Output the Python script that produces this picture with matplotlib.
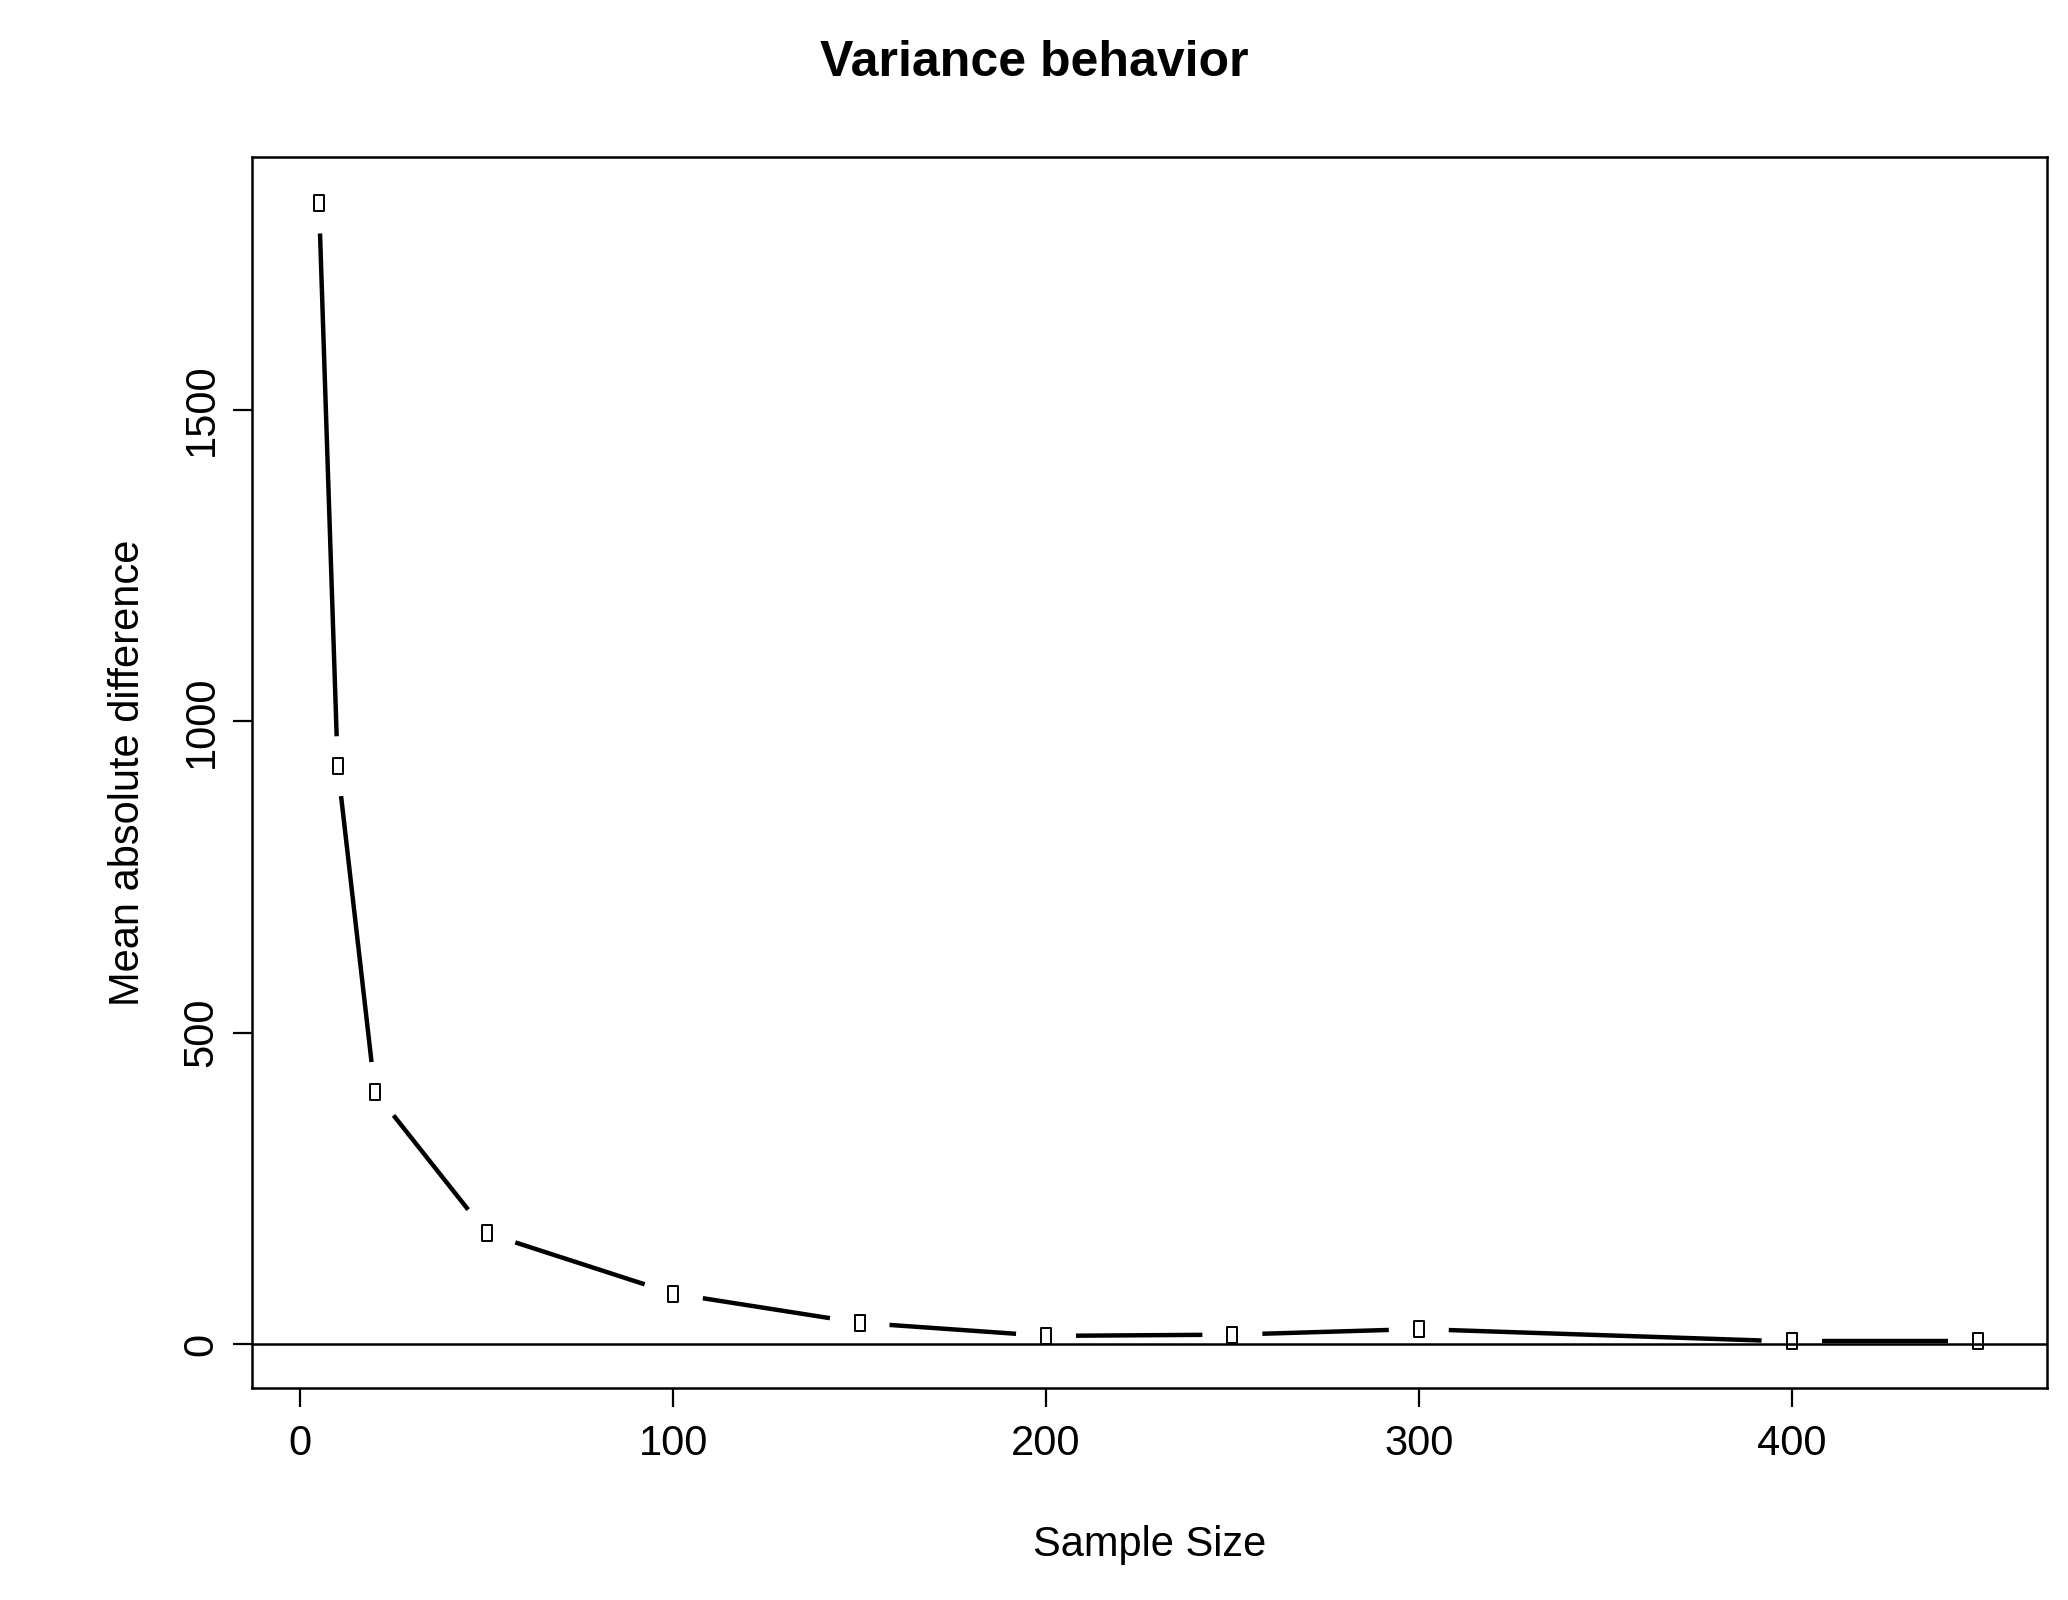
import matplotlib.pyplot as plt
import numpy as np
from matplotlib.path import Path

plt.rcParams['font.family'] = ['Liberation Sans', 'DejaVu Sans']

sample_size = [5, 10, 20, 50, 100, 150, 200, 250, 300, 400, 450]
mean_abs_diff = [1832, 928, 405, 178, 81, 34, 13, 15, 24, 4, 4]

fig = plt.figure(figsize=(10.34, 8), dpi=200)
ax = fig.add_axes([0.122, 0.1325, 0.868, 0.7695])
ax.set_xlim(-12.9, 468.6)
ax.set_ylim(-70.7, 1907)

# R type="b": lines with gaps around points
fig.canvas.draw()
tr = ax.transData
pts = tr.transform(np.column_stack([sample_size, mean_abs_diff]))
gap = 30.0
for (x0, y0), (x1, y1) in zip(pts[:-1], pts[1:]):
    d = np.hypot(x1 - x0, y1 - y0)
    if d <= 2 * gap:
        continue
    ux, uy = (x1 - x0) / d, (y1 - y0) / d
    a = tr.inverted().transform([(x0 + ux * gap, y0 + uy * gap), (x1 - ux * gap, y1 - uy * gap)])
    ax.plot(a[:, 0], a[:, 1], color='black', lw=1.6, solid_capstyle='butt')

box = Path([(-0.6, -1), (0.6, -1), (0.6, 1), (-0.6, 1), (-0.6, -1)],
           [Path.MOVETO, Path.LINETO, Path.LINETO, Path.LINETO, Path.CLOSEPOLY])
ax.plot(sample_size, mean_abs_diff, linestyle='none', marker=box, markersize=6,
        markerfacecolor='white', markeredgecolor='black', markeredgewidth=0.7)

ax.axhline(0, color='black', lw=0.9)

ax.set_xticks([0, 100, 200, 300, 400])
ax.set_yticks([0, 500, 1000, 1500])
ax.tick_params(labelsize=15, length=7, width=0.8, pad=6)
ax.tick_params(axis='y', labelrotation=90, pad=4)
for lab in ax.get_yticklabels():
    lab.set_va('center')
for s in ax.spines.values():
    s.set_linewidth(0.9)

ax.set_xlabel('Sample Size', fontsize=15, labelpad=22)
ax.set_ylabel('Mean absolute difference', fontsize=15, labelpad=12)
fig.suptitle('Variance behavior', fontsize=18, fontweight='bold', y=0.975)

fig.savefig('out.png')
